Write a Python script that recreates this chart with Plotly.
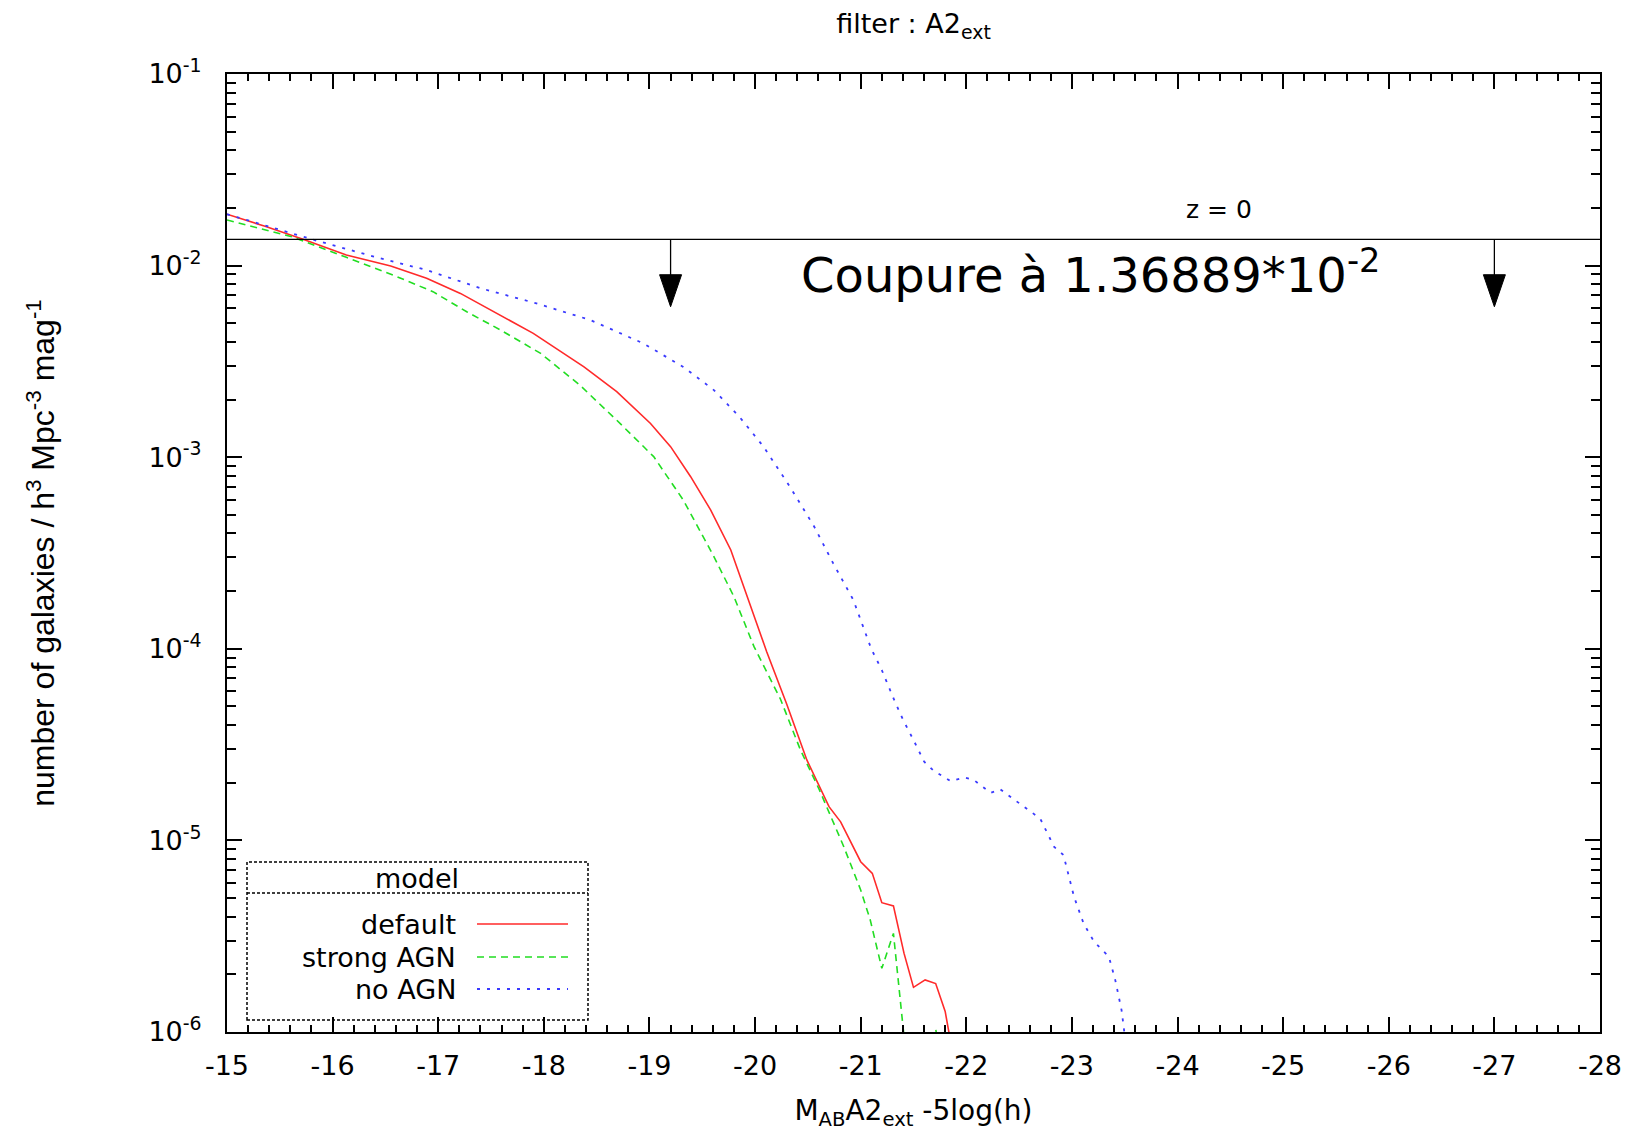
import math
import plotly.graph_objects as go

# ---------------- data ----------------
mag_default = [-15.00, -15.36, -15.72, -16.13, -16.55, -16.89, -17.21, -17.59, -17.90,
               -18.38, -18.69, -19.01, -19.20, -19.39, -19.58, -19.77, -19.96, -20.11,
               -20.30, -20.49, -20.70, -20.81, -21.00, -21.11, -21.20, -21.31, -21.41,
               -21.50, -21.61, -21.71, -21.80, -21.90]
phi_default = [0.01854, 0.01603, 0.01371, 0.01135, 0.00995, 0.00859, 0.00716, 0.00552, 0.00443,
               0.00296, 0.00220, 0.00150, 1.135e-3, 7.91e-4, 5.30e-4, 3.28e-4, 1.66e-4, 9.66e-5,
               5.13e-5, 2.63e-5, 1.50e-5, 1.25e-5, 7.74e-6, 6.73e-6, 4.73e-6, 4.55e-6, 2.58e-6,
               1.71e-6, 1.87e-6, 1.79e-6, 1.28e-6, 6.3e-7]

mag_strong = [-15.00, -15.63, -16.13, -16.61, -16.95, -17.27, -17.59, -17.97, -18.34,
              -18.69, -19.04, -19.32, -19.61, -19.80, -19.99, -20.24, -20.43, -20.61,
              -20.84, -21.00, -21.09, -21.20, -21.31, -21.41, -21.50, -21.61, -21.71, -21.80]
phi_strong = [0.01730, 0.01406, 0.01104, 0.00875, 0.00731, 0.00574, 0.00461, 0.00348, 0.00238,
              0.00156, 1.007e-3, 5.98e-4, 3.03e-4, 1.87e-4, 1.026e-4, 5.47e-5, 2.96e-5, 1.83e-5,
              9.27e-6, 5.51e-6, 3.85e-6, 2.15e-6, 3.27e-6, 9.5e-7, 5.0e-7, 4.0e-7, 1.04e-6, 5.0e-7]

mag_noagn = [-15.00, -15.85, -16.39, -16.89, -17.40, -17.93, -18.44, -18.94, -19.32,
             -19.61, -19.85, -20.08, -20.33, -20.56, -20.74, -20.93, -21.10, -21.20,
             -21.31, -21.40, -21.50, -21.60, -21.69, -21.85, -21.98, -22.07, -22.23,
             -22.32, -22.51, -22.70, -22.83, -22.92, -23.02, -23.11, -23.21, -23.35,
             -23.41, -23.47, -23.53]
phi_noagn = [0.01854, 0.01349, 0.01114, 0.00948, 0.00762, 0.00635, 0.00520, 0.00393, 0.00296,
             0.00224, 0.00163, 1.135e-3, 7.01e-4, 4.34e-4, 2.79e-4, 1.80e-4, 1.00e-4, 7.74e-5,
             5.52e-5, 4.27e-5, 3.34e-5, 2.58e-5, 2.31e-5, 2.04e-5, 2.13e-5, 2.07e-5, 1.77e-5,
             1.85e-5, 1.55e-5, 1.30e-5, 9.27e-6, 8.39e-6, 5.08e-6, 3.69e-6, 2.96e-6, 2.47e-6,
             1.87e-6, 1.30e-6, 7.1e-7]

series_names = ["default", "strong AGN", "no AGN"]

x_tick_vals = list(range(-15, -29, -1))
x_tick_text = [str(v) for v in x_tick_vals]
y_tick_vals = [1e-6, 1e-5, 1e-4, 1e-3, 1e-2, 1e-1]
y_tick_text = ["10<sup>-6</sup>", "10<sup>-5</sup>", "10<sup>-4</sup>",
               "10<sup>-3</sup>", "10<sup>-2</sup>", "10<sup>-1</sup>"]

cut_value = 1.36889e-2
arrow_x = [-19.2, -27.0]
arrow_tip = 6.1e-3

# ---------------- styles / layout helpers ----------------
W, H = 1635, 1136
L, R, T, B = 227, 1600, 74, 1032
FONT = "DejaVu Sans"


def px(X):
    return (X - L) / (R - L)


def py(Y):
    return (B - Y) / (B - T)


styles = [
    dict(color="#ff2a2a", width=1.6, dash="solid"),
    dict(color="#22dd22", width=1.6, dash="7px,5px"),
    dict(color="#3a3aff", width=1.8, dash="3px,7px"),
]

fig = go.Figure()
for name, xs, ys, st in zip(series_names,
                            [mag_default, mag_strong, mag_noagn],
                            [phi_default, phi_strong, phi_noagn], styles):
    fig.add_trace(go.Scatter(x=xs, y=ys, mode="lines", name=name,
                             line=st, showlegend=False))

x_minor = [-15 - 0.2 * i for i in range(66)]
y_minor = [m * 10 ** e for e in range(-6, -1) for m in range(2, 10)]

fig.update_layout(
    width=W, height=H,
    margin=dict(l=L, r=W - R, t=T, b=H - B, autoexpand=False),
    paper_bgcolor="white", plot_bgcolor="white",
    font=dict(family=FONT, size=28, color="black"),
    title=dict(text="filter : A2<sub>ext</sub>", x=0.5, xref="paper", xanchor="center",
               y=1 - 24 / H, yref="container", yanchor="middle",
               font=dict(family=FONT, size=27, color="black")),
    showlegend=False,
)

fig.update_xaxes(
    range=[-15, -28], tickmode="array", tickvals=x_tick_vals, ticktext=x_tick_text,
    ticks="inside", ticklen=15, tickwidth=1.5, tickcolor="black",
    showline=True, linecolor="black", linewidth=2, mirror="allticks",
    showgrid=False, zeroline=False,
    minor=dict(tickmode="array", tickvals=x_minor, ticks="inside", ticklen=7,
               tickwidth=1.5, tickcolor="black", showgrid=False),
    tickfont=dict(family=FONT, size=27),
    ticklabelstandoff=9,
    title=dict(text="M<sub>AB</sub>A2<sub>ext</sub> -5log(h)", standoff=20,
               font=dict(family=FONT, size=28)),
)

fig.update_yaxes(
    type="log", range=[-6, -1], tickmode="array", tickvals=y_tick_vals, ticktext=y_tick_text,
    ticks="inside", ticklen=15, tickwidth=1.5, tickcolor="black",
    showline=True, linecolor="black", linewidth=2, mirror="allticks",
    showgrid=False, zeroline=False,
    minor=dict(tickmode="array", tickvals=y_minor, ticks="inside", ticklen=9,
               tickwidth=1.5, tickcolor="black", showgrid=False),
    tickfont=dict(family=FONT, size=27),
    ticklabelstandoff=18,
    title=dict(text="number of galaxies / h<sup>3</sup> Mpc<sup>-3</sup> mag<sup>-1</sup>",
               standoff=84, font=dict(family="Liberation Sans", size=32)),
)

shapes = []
# cut line
shapes.append(dict(type="line", xref="x", yref="y", x0=-15, x1=-28,
                   y0=cut_value, y1=cut_value, line=dict(color="black", width=1.3)))
# arrows
for ax_ in arrow_x:
    shapes.append(dict(type="line", xref="x", yref="y", x0=ax_, x1=ax_,
                       y0=cut_value, y1=arrow_tip * 1.25, line=dict(color="black", width=1.3)))
    shapes.append(dict(type="path", xref="x", yref="y", xsizemode="pixel", ysizemode="pixel",
                       xanchor=ax_, yanchor=arrow_tip, path="M-11,32 L11,32 L0,0 Z",
                       fillcolor="black", line=dict(color="black", width=1)))

# custom legend box
box_line = dict(color="black", width=1.5, dash="3px,2px")
shapes.append(dict(type="rect", xref="paper", yref="paper", x0=px(247), x1=px(588),
                   y0=py(1020), y1=py(862), line=box_line, fillcolor="rgba(0,0,0,0)"))
shapes.append(dict(type="line", xref="paper", yref="paper", x0=px(247), x1=px(588),
                   y0=py(893), y1=py(893), line=box_line))
legend_rows = [924, 957, 989]
for st, Yr in zip(styles, legend_rows):
    shapes.append(dict(type="line", xref="paper", yref="paper", x0=px(477), x1=px(568),
                       y0=py(Yr), y1=py(Yr), line=st))

annotations = []
annotations.append(dict(text="model", xref="paper", yref="paper", x=px(417), y=py(878),
                        xanchor="center", yanchor="middle", showarrow=False,
                        font=dict(family=FONT, size=27, color="black")))
for name, Yr in zip(series_names, legend_rows):
    annotations.append(dict(text=name, xref="paper", yref="paper", x=px(458), y=py(Yr),
                            xanchor="right", yanchor="middle", showarrow=False,
                            font=dict(family=FONT, size=27, color="black")))
annotations.append(dict(text="z = 0", xref="paper", yref="paper", x=px(1219), y=py(210),
                        xanchor="center", yanchor="middle", showarrow=False,
                        font=dict(family=FONT, size=25, color="black")))
annotations.append(dict(text="Coupure à 1.36889*10<sup>-2</sup>", xref="paper", yref="paper",
                        x=px(1090), y=py(272), xanchor="center", yanchor="middle",
                        showarrow=False, font=dict(family=FONT, size=48, color="black")))

fig.update_layout(shapes=shapes, annotations=annotations)

fig.write_html("out.html")
